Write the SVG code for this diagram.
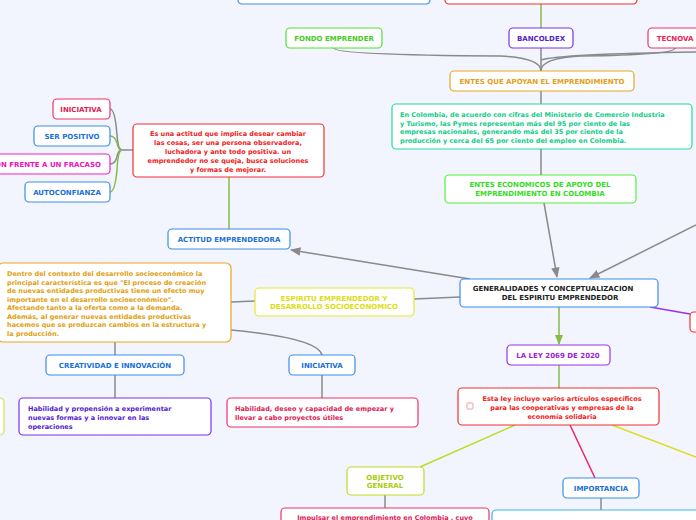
<svg xmlns="http://www.w3.org/2000/svg" width="696" height="520" viewBox="0 0 696 520">
<style>
rect.n{fill:#fff;stroke-width:1.2}
text{font-family:"DejaVu Sans",Verdana,sans-serif;font-weight:bold;font-size:7px;text-anchor:middle}
.b{font-size:6.5px}
.l{text-anchor:start}
.c path{fill:none;stroke:#8a8a8a;stroke-width:1.5}
</style>
<defs><marker id="a" viewBox="0 0 10 10" refX="9" refY="5" markerWidth="7" markerHeight="7" orient="auto"><path d="M0,1L10,5L0,9z" fill="#8a8a8a"/></marker>
<marker id="g" viewBox="0 0 10 10" refX="9" refY="5" markerWidth="7" markerHeight="7" orient="auto"><path d="M0,1L10,5L0,9z" fill="#88bb44"/></marker></defs>
<rect width="696" height="520" fill="#f2f5fd"/>
<g class="c">
<path d="M334,48 Q334,55 500,56 Q541,58 541,71"/>
<path d="M541,48 L541,71"/>
<path d="M675,48 Q675,55 580,56 Q541,58 541,71"/>
<path d="M696,52 Q560,54 541,60"/>
<path d="M541,4 L541,28" style="stroke:#88bb44"/>
<path d="M541,91 L541,104"/>
<path d="M541,149 L541,175"/>
<path d="M544,203 L557,277" marker-end="url(#a)"/>
<path d="M696,225 L590,278" marker-end="url(#a)"/>
<path d="M460,297 L414,299"/>
<path d="M470,279 L291,250" marker-end="url(#a)"/>
<path d="M255,301 L231,302"/>
<path d="M231,330 Q318,338 322,355"/>
<path d="M115,342 L115,355"/>
<path d="M115,375 L115,398"/>
<path d="M322,375 L322,398"/>
<path d="M229,229 L229,177" style="stroke:#88bb44"/>
<path d="M133,150 L122,150 Q118,150 117,135 Q115,109 110,109"/>
<path d="M122,150 Q118,150 117,143 Q115,136 110,136" style="stroke:#88bb44"/>
<path d="M122,150 Q118,150 117,157 Q115,164 110,164"/>
<path d="M122,150 Q118,150 117,170 Q115,192 110,192" style="stroke:#88bb44"/>
<path d="M559,307 L559,344" style="stroke:#88bb44" marker-end="url(#g)"/>
<path d="M559,365 L559,388" style="stroke:#88bb44"/>
<path d="M515,425 L420,467" style="stroke:#bbdd22"/>
<path d="M570,425 L595,478" style="stroke:#ee2266"/>
<path d="M612,425 L696,457" style="stroke:#dddd22"/>
<path d="M385,495 L385,508"/>
<path d="M601,498 L601,510"/>
<path d="M650,307 L690,314" style="stroke:#9933ee"/>
</g>
<g id="top1"><rect class="n" x="238" y="-20" width="192" height="24" rx="4" stroke="#3b8de8"/></g>
<g id="top2"><rect class="n" x="445" y="-20" width="192" height="24" rx="4" stroke="#f03030"/></g>
<g id="fondo"><rect class="n" x="286" y="28" width="96" height="20" rx="4" stroke="#55dd33"/><text x="334" y="41" fill="#44cc22">FONDO EMPRENDER</text></g>
<g id="bancoldex"><rect class="n" x="509" y="28" width="64" height="20" rx="4" stroke="#7733ee"/><text x="541" y="41" fill="#5522cc">BANCOLDEX</text></g>
<g id="tecnova"><rect class="n" x="648" y="28" width="56" height="20" rx="4" stroke="#ee3366"/><text x="675" y="41" fill="#ee2255">TECNOVA</text></g>
<g id="entes"><rect class="n" x="450" y="71" width="184" height="20" rx="4" stroke="#e8a820"/><text x="542" y="84" fill="#e0a020">ENTES QUE APOYAN EL EMPRENDIMIENTO</text></g>
<g id="colombia"><rect class="n" x="392" y="104" width="300" height="45" rx="4" stroke="#22dd99"/>
<text class="b l" fill="#11cc88"><tspan x="400" y="117">En Colombia, de acuerdo con cifras del Ministerio de Comercio Industria</tspan><tspan x="400" y="125.5">y Turismo, las Pymes representan más del 95 por ciento de las</tspan><tspan x="400" y="134">empresas nacionales, generando más del 35 por ciento de la</tspan><tspan x="400" y="142.5">producción y cerca del 65 por ciento del empleo en Colombia.</tspan></text></g>
<g id="economicos"><rect class="n" x="445" y="175" width="191" height="28" rx="4" stroke="#55ee44"/><text fill="#33dd22"><tspan x="540" y="187">ENTES ECONOMICOS DE APOYO DEL</tspan><tspan x="540" y="196">EMPRENDIMIENTO EN COLOMBIA</tspan></text></g>
<g id="generalidades"><rect class="n" x="460" y="279" width="198" height="28" rx="4" stroke="#3b8de8"/><text fill="#222"><tspan x="553" y="291">GENERALIDADES Y CONCEPTUALIZACION</tspan><tspan x="560" y="300">DEL ESPIRITU EMPRENDEDOR</tspan></text></g>
<g id="espiritu"><rect class="n" x="255" y="288" width="159" height="28" rx="4" stroke="#e8e830"/><text fill="#dddd11"><tspan x="334" y="301">ESPIRITU EMPRENDEDOR Y</tspan><tspan x="334" y="309">DESARROLLO SOCIOECONOMICO</tspan></text></g>
<g id="dentro"><rect class="n" x="-2" y="263" width="233" height="79" rx="5" stroke="#e8a820"/>
<text class="b l" fill="#e0a010"><tspan x="7" y="276">Dentro del contexto del desarrollo socioeconómico la</tspan><tspan x="7" y="284.5">principal característica es que "El proceso de creación</tspan><tspan x="7" y="293">de nuevas entidades productivas tiene un efecto muy</tspan><tspan x="7" y="301.5">importante en el desarrollo socioeconómico".</tspan><tspan x="7" y="310">Afectando tanto a la oferta como a la demanda.</tspan><tspan x="7" y="318.5">Además, al generar nuevas entidades productivas</tspan><tspan x="7" y="327">hacemos que se produzcan cambios en la estructura y</tspan><tspan x="7" y="335.5">la producción.</tspan></text></g>
<g id="actitud"><rect class="n" x="168" y="229" width="122" height="20" rx="4" stroke="#3b8de8"/><text x="229" y="242" fill="#1a6fd8">ACTITUD EMPRENDEDORA</text></g>
<g id="esuna"><rect class="n" x="133" y="124" width="191" height="53" rx="4" stroke="#f03030"/>
<text class="b" fill="#f02020"><tspan x="228" y="136">Es una actitud que implica desear cambiar</tspan><tspan x="228" y="145">las cosas, ser una persona observadora,</tspan><tspan x="228" y="154">luchadora y ante todo positiva. un</tspan><tspan x="228" y="163">emprendedor no se queja, busca soluciones</tspan><tspan x="228" y="172">y formas de mejorar.</tspan></text></g>
<g id="ini1"><rect class="n" x="53" y="99" width="57" height="20" rx="4" stroke="#ee3366"/><text x="81" y="112" fill="#dd2255">INICIATIVA</text></g>
<g id="ser"><rect class="n" x="34" y="126" width="76" height="20" rx="4" stroke="#3b8de8"/><text x="72" y="139" fill="#1a6fd8">SER POSITIVO</text></g>
<g id="fracaso"><rect class="n" x="-10" y="154" width="120" height="20" rx="4" stroke="#ee22cc"/><text x="48" y="167" fill="#ee11bb">ON FRENTE A UN FRACASO</text></g>
<g id="auto"><rect class="n" x="25" y="182" width="85" height="20" rx="4" stroke="#3b8de8"/><text x="67" y="195" fill="#1a6fd8">AUTOCONFIANZA</text></g>
<g id="creatividad"><rect class="n" x="46" y="355" width="138" height="20" rx="4" stroke="#3b8de8"/><text x="115" y="368" fill="#1a6fd8">CREATIVIDAD E INNOVACIÓN</text></g>
<g id="ini2"><rect class="n" x="289" y="355" width="66" height="20" rx="4" stroke="#3b8de8"/><text x="322" y="368" fill="#1a6fd8">INICIATIVA</text></g>
<g id="hab1"><rect class="n" x="19" y="398" width="192" height="37" rx="4" stroke="#7733ee"/><text class="b l" fill="#5522cc"><tspan x="28" y="411">Habilidad y propensión a experimentar</tspan><tspan x="28" y="420">nuevas formas y a innovar en las</tspan><tspan x="28" y="429">operaciones</tspan></text></g>
<g id="hab2"><rect class="n" x="227" y="398" width="191" height="29" rx="4" stroke="#ee3366"/><text class="b l" fill="#dd2255"><tspan x="235" y="411">Habilidad, deseo y capacidad de empezar y</tspan><tspan x="235" y="420">llevar a cabo proyectos útiles</tspan></text></g>
<g id="leftY"><rect class="n" x="-10" y="398" width="14" height="37" rx="4" stroke="#dddd55"/></g>
<g id="ley"><rect class="n" x="507" y="345" width="103" height="20" rx="4" stroke="#9933ee"/><text x="558" y="358" fill="#9922dd">LA LEY 2069 DE 2020</text></g>
<g id="estaley"><rect class="n" x="458" y="388" width="201" height="37" rx="4" stroke="#f03030"/><rect x="467" y="403" width="6" height="6" rx="1" fill="#fff" stroke="#f0a0a0"/>
<text class="b" fill="#f02020"><tspan x="562" y="401">Esta ley incluyo varios artículos específicos</tspan><tspan x="562" y="410">para las cooperativas y empresas de la</tspan><tspan x="562" y="419">economía solidaria</tspan></text></g>
<g id="objetivo"><rect class="n" x="347" y="467" width="77" height="28" rx="4" stroke="#bbdd22"/><text fill="#aacc11"><tspan x="385" y="480">OBJETIVO</tspan><tspan x="385" y="488">GENERAL</tspan></text></g>
<g id="importancia"><rect class="n" x="563" y="478" width="76" height="20" rx="4" stroke="#3b8de8"/><text x="601" y="491" fill="#1a6fd8">IMPORTANCIA</text></g>
<g id="impulsar"><rect class="n" x="281" y="508" width="208" height="30" rx="4" stroke="#ee3366"/><text class="b" x="385" y="520" fill="#dd2255">Impulsar el emprendimiento en Colombia , cuyo</text></g>
<g id="br"><rect class="n" x="492" y="510" width="210" height="30" rx="4" stroke="#3bb8e8"/></g>
<g id="rr"><rect class="n" x="690" y="312" width="20" height="20" rx="4" stroke="#f03030"/></g>
</svg>
